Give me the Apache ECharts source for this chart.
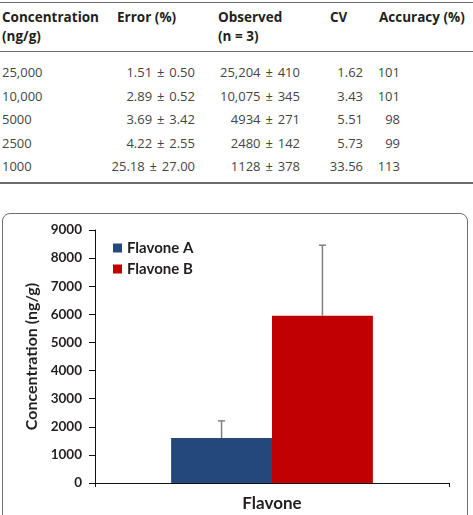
<!DOCTYPE html>
<html>
<head>
<meta charset="utf-8">
<script src="https://cdn.jsdelivr.net/npm/echarts@6/dist/echarts.min.js"></script>
<style>
html, body { margin: 0; padding: 0; background: #fff; }
body { width: 473px; height: 515px; overflow: hidden; position: relative; }
#table { position: absolute; left: 0; top: 0; width: 473px; height: 190px; font-family: "Open Sans", sans-serif; }
.rule { position: absolute; left: 0; width: 473px; background: #6b6b6b; }
.cell { position: absolute; white-space: nowrap; line-height: 18px; }
.head { font-weight: bold; font-size: 13.5px; color: #231f20; }
.data { font-size: 13px; color: #454545; word-spacing: 1.5px; }
#frame { position: absolute; left: 2px; top: 213px; width: 464px; height: 330px; border: 1px solid #6e6e6e; border-radius: 8px; }
#chart { position: absolute; left: 0; top: 213px; width: 473px; height: 302px; }
</style>
</head>
<body>
<div id="table"></div>
<div id="frame"></div>
<div id="chart"></div>
<script>
// table
var headers = [['Concentration', '(ng/g)'], ['Error (%)'], ['Observed', '(n = 3)'], ['CV'], ['Accuracy (%)']];
var concentration = ['25,000', '10,000', '5000', '2500', '1000'];
var errorPct = ['1.51 ± 0.50', '2.89 ± 0.52', '3.69 ± 3.42', '4.22 ± 2.55', '25.18 ± 27.00'];
var observed = ['25,204 ± 410', '10,075 ± 345', '4934 ± 271', '2480 ± 142', '1128 ± 378'];
var cv = ['1.62', '3.43', '5.51', '5.73', '33.56'];
var accuracy = ['101', '101', '98', '99', '113'];

// chart
var categories = ['Flavone'];
var seriesNames = ['Flavone A', 'Flavone B'];
var means = [1600, 5950];
var errors = [610, 2510];

var headLeft = [2, 117, 218, 330, 379];
var dataRight = [null, 278, 173, 110, 73];
var columns = [concentration, errorPct, observed, cv, accuracy];

var table = document.getElementById('table');
function addRule(top, h) {
    var d = document.createElement('div');
    d.className = 'rule';
    d.style.top = top + 'px';
    d.style.height = h + 'px';
    table.appendChild(d);
}
function addCell(cls, text, top, left, right) {
    var d = document.createElement('div');
    d.className = 'cell ' + cls;
    d.textContent = text;
    d.style.top = top + 'px';
    if (right != null) d.style.right = right + 'px'; else d.style.left = left + 'px';
    table.appendChild(d);
}
addRule(2, 1);
addRule(51, 1);
addRule(182, 2);
headers.forEach(function (lines, c) {
    lines.forEach(function (t, i) {
        addCell('head', t, 8 + i * 19.3, headLeft[c], null);
    });
});
for (var r = 0; r < concentration.length; r++) {
    columns.forEach(function (col, c) {
        addCell('data', col[r], 63 + r * 23.5, headLeft[c], dataRight[c]);
    });
}

var barFrac = 0.285;
var chart = echarts.init(document.getElementById('chart'));
var option = {
    animation: false,
    textStyle: { fontFamily: 'Lato' },
    legend: {
        data: seriesNames,
        orient: 'vertical',
        left: 113,
        top: 26,
        padding: 0,
        itemWidth: 9,
        itemHeight: 9,
        itemGap: 3,
        icon: 'rect',
        textStyle: { fontSize: 15, lineHeight: 18, fontWeight: 'bold', color: '#231f20' }
    },
    grid: { left: 95, right: 24, top: 17, bottom: 32, outerBoundsMode: 'none' },
    xAxis: {
        type: 'category',
        data: categories,
        name: 'Flavone',
        nameLocation: 'middle',
        nameGap: 12,
        nameTextStyle: { fontSize: 17, fontWeight: 'bold', color: '#231f20' },
        axisLine: { lineStyle: { color: '#111', width: 1 } },
        axisTick: { show: true, length: 4, lineStyle: { color: '#111' } },
        axisLabel: { show: false }
    },
    yAxis: {
        type: 'value',
        min: 0,
        max: 9000,
        interval: 1000,
        name: 'Concentration (ng/g)',
        nameLocation: 'middle',
        nameGap: 52,
        nameTextStyle: { fontSize: 16, fontWeight: 'bold', color: '#231f20' },
        axisLine: { show: true, lineStyle: { color: '#111', width: 1 } },
        axisTick: { show: true, length: 6, lineStyle: { color: '#111' } },
        axisLabel: {
            margin: 13, fontSize: 13.5, fontWeight: 'bold', color: '#231f20',
            formatter: function (v) { return String(v); }
        },
        splitLine: { show: false }
    },
    series: [
        {
            name: seriesNames[0],
            type: 'bar',
            data: [means[0]],
            barWidth: (barFrac * 100) + '%',
            barGap: '0%',
            itemStyle: { color: '#24487c' }
        },
        {
            name: seriesNames[1],
            type: 'bar',
            data: [means[1]],
            barWidth: (barFrac * 100) + '%',
            barGap: '0%',
            itemStyle: { color: '#c00000' }
        },
        {
            type: 'custom',
            z: 10,
            data: means.map(function (m, i) { return [0, m, errors[i]]; }),
            renderItem: function (params, api) {
                var i = params.dataIndex;
                var n = means.length;
                var bw = api.size([1, 0])[0] * barFrac;
                var base = api.coord([api.value(0), api.value(1)]);
                var top = api.coord([api.value(0), api.value(1) + api.value(2)]);
                var x = base[0] + (i - (n - 1) / 2) * bw;
                var cap = 3.5;
                var st = { stroke: '#7f7f7f', lineWidth: 1.5 };
                return {
                    type: 'group',
                    children: [
                        { type: 'line', shape: { x1: x, y1: base[1], x2: x, y2: top[1] }, style: st },
                        { type: 'line', shape: { x1: x - cap, y1: top[1], x2: x + cap, y2: top[1] }, style: st }
                    ]
                };
            }
        }
    ]
};
chart.setOption(option);
</script>
</body>
</html>
